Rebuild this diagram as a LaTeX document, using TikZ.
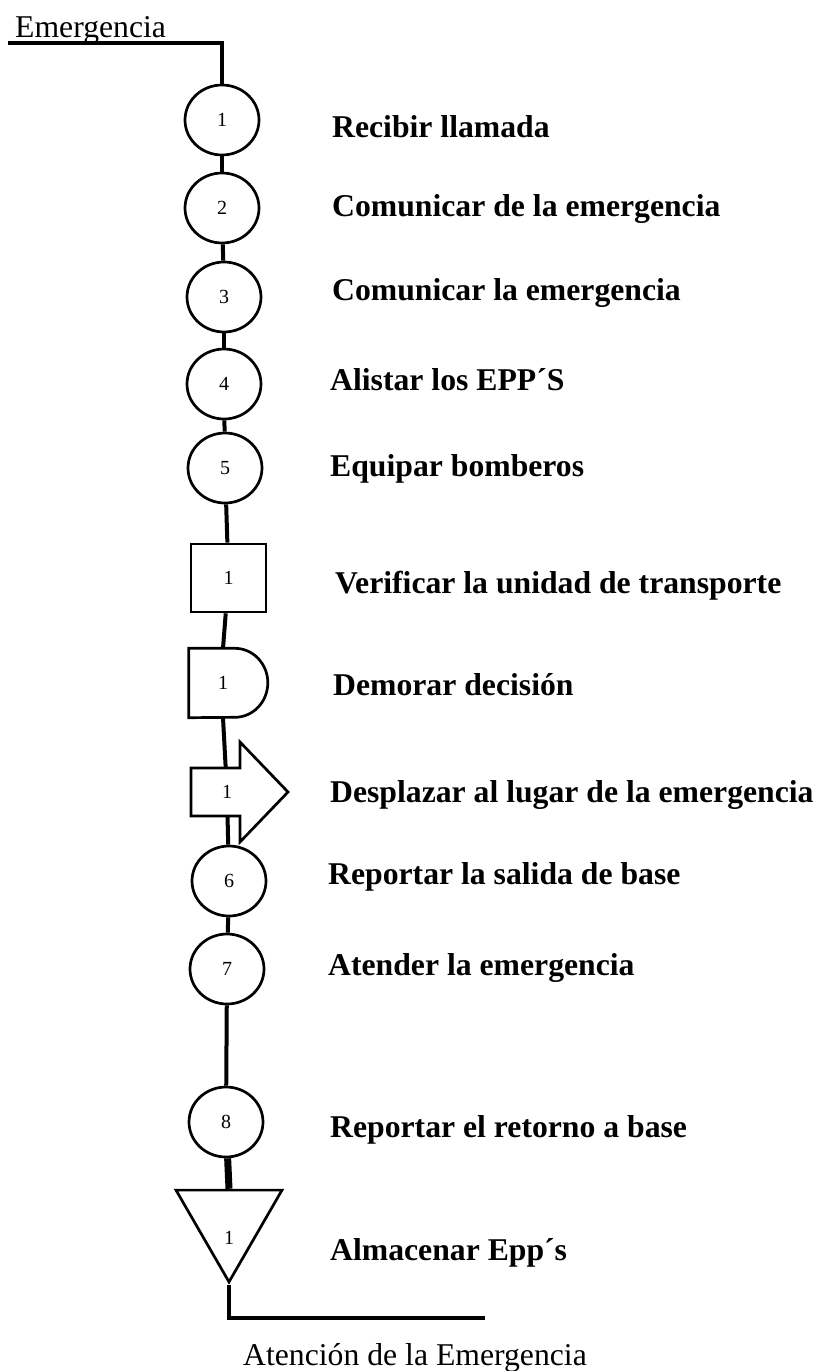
\documentclass[tikz,border=0pt]{standalone}
\usepackage{fontspec}
\setmainfont{Liberation Serif}
\usetikzlibrary{shapes.geometric}

\begin{document}
\begin{tikzpicture}[x=1pt,y=-1pt,>=latex]

    %
    % Styles for activities, symbols and flow lines
    %
    \tikzstyle{stepText} = [font={\bfseries\fontsize{31.7}{38}\selectfont}, anchor=base west, inner sep=0pt]
    \tikzstyle{plainText} = [font={\fontsize{31.7}{38}\selectfont}, anchor=base west, inner sep=0pt]
    \tikzstyle{numText} = [font={\fontsize{20}{24}\selectfont}, inner sep=0pt]
    \tikzstyle{symbolLine} = [draw, line width=2.7pt, fill=white]
    \tikzstyle{operation} = [symbolLine, numText, ellipse, minimum width=74pt, minimum height=70pt]
    \tikzstyle{inspection} = [symbolLine, numText, rectangle, minimum width=75pt, minimum height=68pt]
    \tikzstyle{storage} = [symbolLine, regular polygon, regular polygon sides=3,
                           shape border rotate=180, minimum size=122.4pt, inner sep=0pt]
    \tikzstyle{flowLine} = [line width=4pt]

    \useasboundingbox (0,0) rectangle (822,1371);

    %
    % Position symbols
    %
    \node[operation, name=op1] at (222,120) {1};
    \node[operation, name=op2] at (222,208) {2};
    \node[operation, name=op3] at (224,297) {3};
    \node[operation, name=op4] at (224,384) {4};
    \node[operation, name=op5] at (225,468) {5};
    \node[inspection, name=insp1] at (228.5,578) {1};
    \node[numText, name=demora, minimum width=68pt, minimum height=69pt] at (223,683) {1};
    \draw[line width=2.7pt] (demora.north west) -- ++(46,0)
      arc[start angle=90, end angle=-90, x radius=33pt, y radius=34.5pt]
      -- (demora.south west) -- cycle;
    \coordinate (despl) at (227,792);
    \node[operation, name=op6] at (229,881) {6};
    \node[operation, name=op7] at (227,969) {7};
    \node[operation, name=op8] at (226,1122) {8};
    \node[storage, name=alm, label={[numText, yshift=-17pt]center:1}] at (229,1220.7) {};

    %
    % Start and end of the process
    %
    \node[plainText, name=entrada] at (15,37) {Emergencia};
    \coordinate (inicio) at (8,43);
    \node[plainText, name=salida] at (243,1365) {Atención de la Emergencia};
    \coordinate (fin) at (485,1318);

    %
    % Connect symbols via flow lines
    %
    \draw[flowLine] (inicio) -| (op1.north);
    \draw[flowLine] (op1) -- (op2);
    \draw[flowLine] (op2) -- (op3);
    \draw[flowLine] (op3) -- (op4);
    \draw[flowLine] (op4) -- (op5);
    \draw[flowLine] (op5) -- (insp1);
    \draw[flowLine] (insp1) -- (demora.north);
    \draw[flowLine] (demora.south) -- (despl) -- (op6);
    \draw[flowLine] (op6) -- (op7);
    \draw[flowLine] (op7) -- (op8);
    \draw[flowLine, line width=7pt] (op8) -- (alm.north);
    \draw[flowLine] (alm.south) |- (fin);

    % transport arrow over the line
    \draw[symbolLine] ([shift={(-36,-24)}]despl) -- ++(49,0) -- ++(0,-26) -- ++(48,50)
      -- ++(-48,50) -- ++(0,-26) -- ++(-49,0) -- cycle;
    \node[numText, name=desplazar] at (despl) {1};

    %
    % Activity names
    %
    \node[stepText, name=lbl1] at (332,137) {Recibir llamada};
    \node[stepText, name=lbl2] at (332,216) {Comunicar de la emergencia};
    \node[stepText, name=lbl3] at (332,300) {Comunicar la emergencia};
    \node[stepText, name=lbl4] at (330,390) {Alistar los EPP´S};
    \node[stepText, name=lbl5] at (330,476) {Equipar bomberos};
    \node[stepText, name=lbl6] at (335,593) {Verificar la unidad de transporte};
    \node[stepText, name=lbl7] at (333,695) {Demorar decisión};
    \node[stepText, name=lbl8] at (330,802) {Desplazar al lugar de la emergencia};
    \node[stepText, name=lbl9] at (328,884) {Reportar la salida de base};
    \node[stepText, name=lbl10] at (328,975) {Atender la emergencia};
    \node[stepText, name=lbl11] at (330,1137) {Reportar el retorno a base};
    \node[stepText, name=lbl12] at (330,1260) {Almacenar Epp´s};
  \end{tikzpicture}
\end{document}
